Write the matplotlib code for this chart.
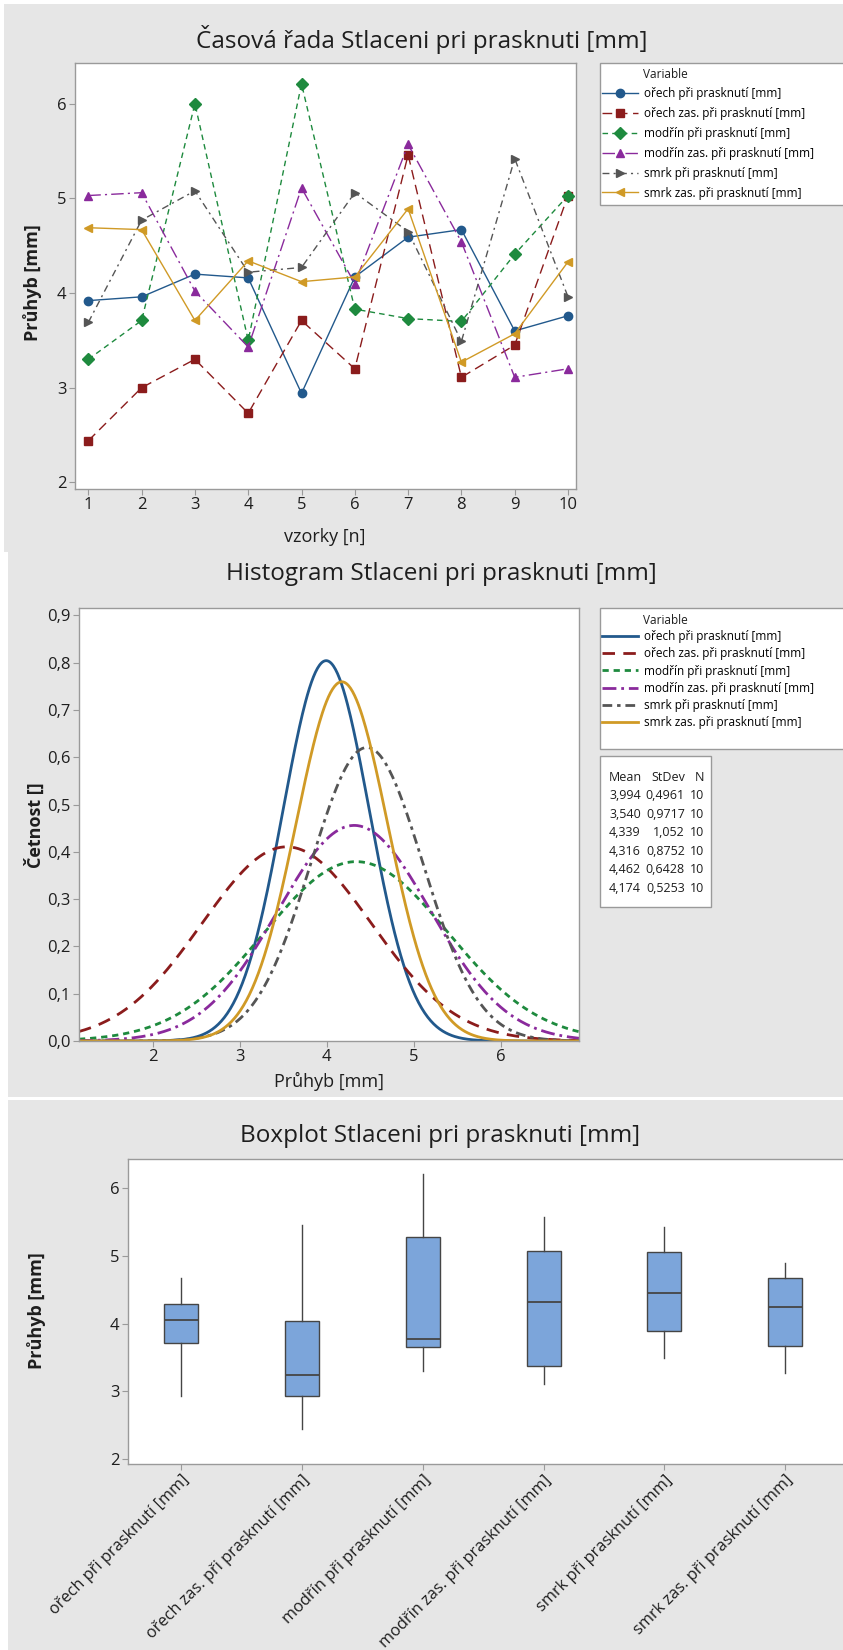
import numpy as np
import matplotlib
matplotlib.use("Agg")
import matplotlib.pyplot as plt
from matplotlib.patches import Rectangle
from matplotlib.ticker import FuncFormatter

plt.rcParams['font.family'] = ['Open Sans', 'DejaVu Sans']
plt.rcParams['lines.scale_dashes'] = False

# ---------------------------------------------------------------- data
variables = [
    "ořech při prasknutí [mm]",
    "ořech zas. při prasknutí [mm]",
    "modřín při prasknutí [mm]",
    "modřín zas. při prasknutí [mm]",
    "smrk při prasknutí [mm]",
    "smrk zas. při prasknutí [mm]",
]
samples = np.arange(1, 11)

orech      = [3.92, 3.96, 4.20, 4.16, 2.94, 4.17, 4.59, 4.67, 3.60, 3.76]
orech_zas  = [2.44, 3.00, 3.30, 2.73, 3.71, 3.20, 5.46, 3.11, 3.45, 5.03]
modrin     = [3.30, 3.71, 6.00, 3.50, 6.21, 3.83, 3.73, 3.70, 4.41, 5.03]
modrin_zas = [5.03, 5.06, 4.02, 3.43, 5.11, 4.10, 5.57, 4.54, 3.11, 3.20]
smrk       = [3.69, 4.77, 5.08, 4.22, 4.27, 5.06, 4.65, 3.49, 5.42, 3.96]
smrk_zas   = [4.69, 4.67, 3.71, 4.34, 4.12, 4.17, 4.89, 3.27, 3.57, 4.33]
series = [orech, orech_zas, modrin, modrin_zas, smrk, smrk_zas]

means  = [3.994, 3.540, 4.339, 4.316, 4.462, 4.174]
stdevs = [0.4961, 0.9717, 1.052, 0.8752, 0.6428, 0.5253]
counts = [10, 10, 10, 10, 10, 10]

# ---------------------------------------------------------------- styles
colors  = ['#22598c', '#8b1c1c', '#1e8a3e', '#8a2a9c', '#555555', '#d09a26']
markers = ['o', 's', 'D', '^', '>', '<']
ts_dashes   = [None, (7, 4), (4, 3), (9, 3, 1.5, 3), (5, 3, 1.5, 3), None]
hist_dashes = [None, (9, 6), (4.5, 3.5), (10, 3.5, 2, 3.5), (7, 3.5, 2.5, 3.5), None]

W, H = 843, 1650
PANEL = '#e6e6e6'
SPINE = '#9a9a9a'
TXT = '#1e1e1e'
TITLE_SIZE = 17.5
LABEL_SIZE = 13
TICK_SIZE = 12

fig = plt.figure(figsize=(W / 100, H / 100), dpi=100, facecolor='white')


def fx(x):
    return x / W


def fy(y):
    return 1 - y / H


def px_axes(l, t, r, b):
    return fig.add_axes([l / W, 1 - b / H, (r - l) / W, (b - t) / H])


def px_rect(l, t, r, b, fc, ec='none', lw=1.0, z=-10):
    fig.add_artist(Rectangle((fx(l), fy(b)), (r - l) / W, (b - t) / H,
                             transform=fig.transFigure, facecolor=fc,
                             edgecolor=ec, linewidth=lw, zorder=z))


def style_axes(ax):
    ax.set_facecolor('white')
    for s in ax.spines.values():
        s.set_color(SPINE)
        s.set_linewidth(1.0)
    ax.tick_params(direction='out', length=4, width=0.8, color=SPINE,
                   labelsize=TICK_SIZE, labelcolor=TXT, pad=2)


def comma(v, p=None, fmt="{:.1f}"):
    return fmt.format(v).replace('.', ',')


# grey panels behind the three charts
px_rect(4, 4, 843, 552, PANEL)
px_rect(8, 552, 843, 1097, PANEL)
px_rect(8, 1100, 843, 1650, PANEL)

# ---------------------------------------------------------------- time series
ax1 = px_axes(75, 63, 576, 489)
style_axes(ax1)
handles = []
for vals, lab, c, m, d in zip(series, variables, colors, markers, ts_dashes):
    ln, = ax1.plot(samples, vals, color=c, marker=m, markersize=6, lw=1.0,
                   markeredgecolor=c, label=lab)
    if d:
        ln.set_dashes(d)
    handles.append(ln)
ax1.set_xlim(0.75, 10.15)
ax1.set_ylim(1.93, 6.43)
ax1.set_xticks(samples)
ax1.set_yticks([2, 3, 4, 5, 6])

fig.text(fx(422), fy(40), "Časová řada Stlaceni pri prasknuti [mm]",
         ha='center', va='center', fontsize=TITLE_SIZE, color=TXT)
fig.text(fx(325), fy(537), "vzorky [n]", ha='center', va='center',
         fontsize=LABEL_SIZE, color=TXT)
fig.text(fx(33), fy(283), "Průhyb [mm]", rotation=90, ha='center',
         va='center', fontsize=LABEL_SIZE, fontweight='bold', color=TXT)

px_rect(600, 63, 850, 205, 'white', SPINE, 1.0, z=1)
fig.text(fx(643), fy(75), "Variable", ha='left', va='center', fontsize=8.5,
         color=TXT, zorder=3)
fig.legend(handles=handles, labels=variables, loc='upper left',
           bbox_to_anchor=(fx(600), fy(85)), frameon=False, fontsize=8.5,
           handlelength=3.0, handletextpad=0.5, labelspacing=0.58,
           borderaxespad=0, borderpad=0.2)

# ---------------------------------------------------------------- normal curves
ax2 = px_axes(79, 608, 579, 1041)
style_axes(ax2)
x_lo, x_hi = 1.153, 6.9
xs = np.linspace(x_lo, x_hi, 500)
hist_handles = []
for mu, sd, lab, c, d in zip(means, stdevs, variables, colors, hist_dashes):
    dens = np.exp(-0.5 * ((xs - mu) / sd) ** 2) / (sd * np.sqrt(2 * np.pi))
    ln, = ax2.plot(xs, dens, color=c, lw=2.0, label=lab)
    if d:
        ln.set_dashes(d)
    hist_handles.append(ln)
ax2.set_xlim(x_lo, x_hi)
ax2.set_ylim(0, 0.9155)
ax2.set_xticks([2, 3, 4, 5, 6])
ax2.set_yticks(np.round(np.arange(0, 0.91, 0.1), 1))
ax2.yaxis.set_major_formatter(FuncFormatter(comma))

fig.text(fx(441), fy(574), "Histogram Stlaceni pri prasknuti [mm]",
         ha='center', va='center', fontsize=TITLE_SIZE, color=TXT)
fig.text(fx(329), fy(1081), "Průhyb [mm]", ha='center', va='center',
         fontsize=LABEL_SIZE, color=TXT)
fig.text(fx(35), fy(825), "Četnost []", rotation=90, ha='center',
         va='center', fontsize=LABEL_SIZE, fontweight='bold', color=TXT)

px_rect(600, 608, 850, 749, 'white', SPINE, 1.0, z=1)
fig.text(fx(643), fy(620), "Variable", ha='left', va='center', fontsize=8.5,
         color=TXT, zorder=3)
fig.legend(handles=hist_handles, labels=variables, loc='upper left',
           bbox_to_anchor=(fx(600), fy(628)), frameon=False, fontsize=8.5,
           handlelength=3.0, handletextpad=0.5, labelspacing=0.35,
           borderaxespad=0, borderpad=0.2)

# summary table
px_rect(600, 756, 711, 907, 'white', SPINE, 1.0, z=1)
col_mean, col_sd, col_n = 609, 685, 704
row0 = 777
fig.text(fx(col_mean), fy(row0), "Mean", ha='left', va='center', fontsize=9, color=TXT)
fig.text(fx(col_sd), fy(row0), "StDev", ha='right', va='center', fontsize=9, color=TXT)
fig.text(fx(col_n), fy(row0), "N", ha='right', va='center', fontsize=9, color=TXT)
for i, (mu, sd, n) in enumerate(zip(means, stdevs, counts)):
    yy = row0 + 18.6 * (i + 1)
    fig.text(fx(col_mean), fy(yy), comma(mu, fmt="{:.3f}"), ha='left',
             va='center', fontsize=9, color=TXT)
    fig.text(fx(col_sd), fy(yy), comma(sd, fmt="{:.4g}"), ha='right',
             va='center', fontsize=9, color=TXT)
    fig.text(fx(col_n), fy(yy), str(n), ha='right', va='center',
             fontsize=9, color=TXT)

# ---------------------------------------------------------------- boxplot
ax3 = px_axes(128, 1159, 848, 1464)
style_axes(ax3)
stats = []
for vals, lab in zip(series, variables):
    a = np.sort(np.asarray(vals))
    q1, med, q3 = np.percentile(a, [25, 50, 75], method='weibull')
    iqr = q3 - q1
    lo = a[a >= q1 - 1.5 * iqr].min()
    hi = a[a <= q3 + 1.5 * iqr].max()
    stats.append(dict(med=med, q1=q1, q3=q3, whislo=lo, whishi=hi,
                      fliers=[], label=lab))
ax3.bxp(stats, positions=np.arange(1, 7), widths=0.28, patch_artist=True,
        showcaps=False, showfliers=False,
        boxprops=dict(facecolor='#7ca5da', edgecolor='#454545', linewidth=1.0),
        medianprops=dict(color='#454545', linewidth=1.3),
        whiskerprops=dict(color='#454545', linewidth=1.0))
ax3.set_xlim(0.559, 6.52)
ax3.set_ylim(1.93, 6.43)
ax3.set_yticks([2, 3, 4, 5, 6])
ax3.set_xticks(np.arange(1, 7))
ax3.set_xticklabels(variables, rotation=45, ha='right', rotation_mode='anchor',
                    fontsize=11.8, color=TXT)

fig.text(fx(440), fy(1136), "Boxplot Stlaceni pri prasknuti [mm]",
         ha='center', va='center', fontsize=TITLE_SIZE, color=TXT)
fig.text(fx(37), fy(1311), "Průhyb [mm]", rotation=90, ha='center',
         va='center', fontsize=LABEL_SIZE, fontweight='bold', color=TXT)

fig.savefig("out.png", dpi=100, facecolor='white')
